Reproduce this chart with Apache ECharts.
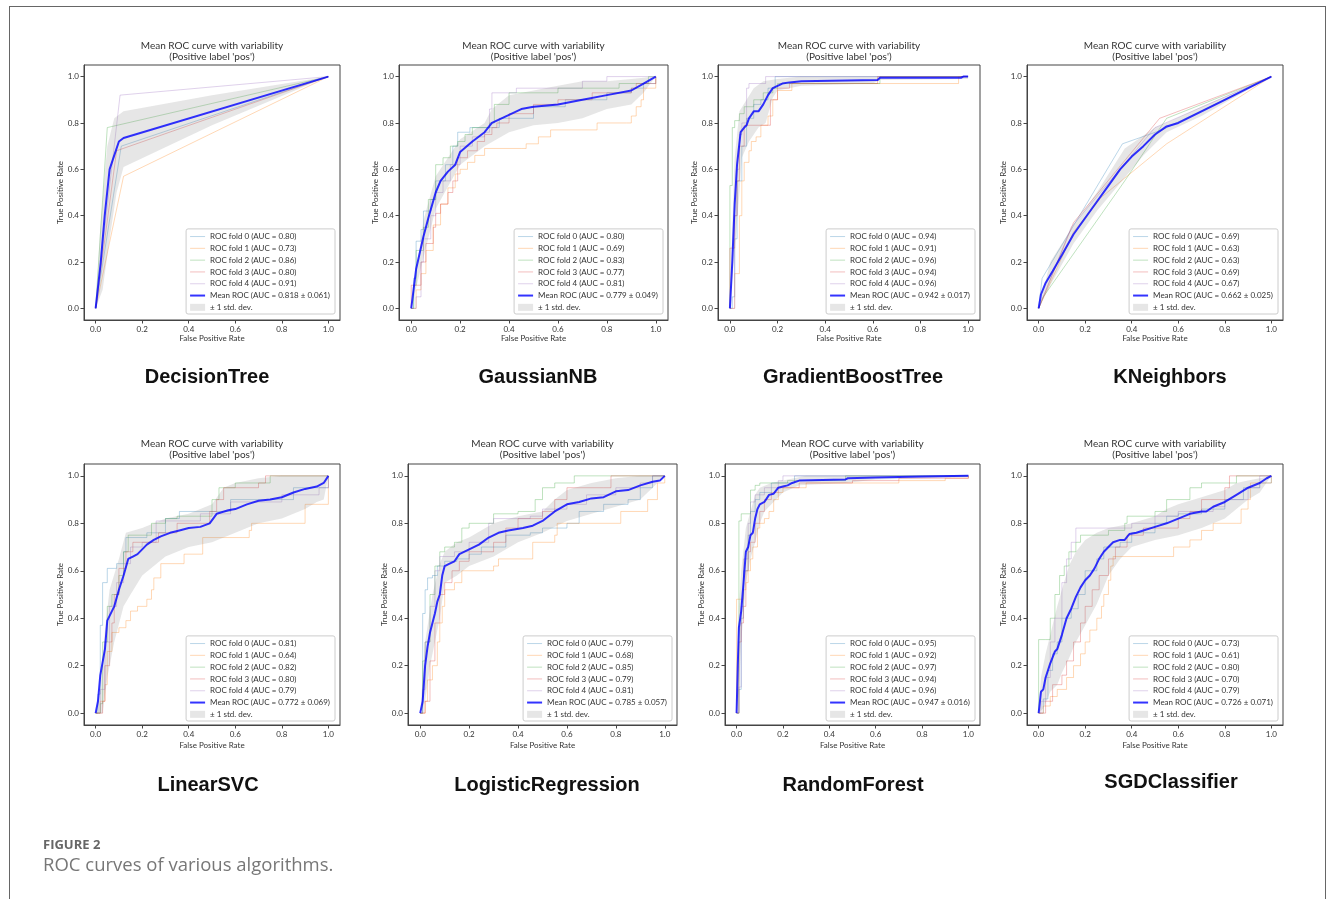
<!DOCTYPE html>
<html>
<head>
<meta charset="utf-8">
<title>ROC curves of various algorithms</title>
<script src="https://cdn.jsdelivr.net/npm/echarts@6/dist/echarts.min.js"></script>
<style>
  html, body { margin: 0; padding: 0; background: #fff; overflow: hidden; }
  .frame { position: absolute; left: 9px; top: 6px; width: 1315px; height: 1000px; border: 1px solid #666; }
  #roc { position: absolute; left: 0; top: 0; width: 1333px; height: 899px; }
</style>
</head>
<body>
<div class="frame"></div>
<div id="roc"></div>
<script>
const TICKS = [0, 0.2, 0.4, 0.6, 0.8, 1.0];
const MODELS = ['DecisionTree', 'GaussianNB', 'GradientBoostTree', 'KNeighbors',
  'LinearSVC', 'LogisticRegression', 'RandomForest', 'SGDClassifier'];

// DecisionTree
const dtAuc = [0.80, 0.73, 0.86, 0.80, 0.91];
const dtMeanAuc = [0.818, 0.061];
const dtFolds = [
  [[0, 0], [0.11, 0.70], [1, 1]],
  [[0, 0], [0.12, 0.57], [1, 1]],
  [[0, 0], [0.05, 0.78], [1, 1]],
  [[0, 0], [0.09, 0.68], [1, 1]],
  [[0, 0], [0.105, 0.92], [1, 1]],
];
const dtMean = [[0, 0], [0.022, 0.2], [0.039, 0.4], [0.06, 0.6], [0.075, 0.645], [0.1, 0.72], [0.12, 0.735], [1, 1]];
const dtUpper = [[0, 0], [0.02, 0.35], [0.05, 0.70], [0.08, 0.82], [0.12, 0.85], [0.5, 0.92], [1, 1]];
const dtLower = [[0, 0], [0.03, 0.08], [0.06, 0.30], [0.09, 0.50], [0.12, 0.61], [0.5, 0.79], [1, 1]];

// GaussianNB
const gnbAuc = [0.80, 0.69, 0.83, 0.77, 0.81];
const gnbMeanAuc = [0.779, 0.049];
const gnbFolds = [
  [[0, 0], [0.01, 0.13], [0.02, 0.29], [0.04, 0.34], [0.05, 0.42], [0.08, 0.47], [0.1, 0.55], [0.14, 0.62], [0.17, 0.70], [0.19, 0.76], [0.22, 0.76], [0.24, 0.78], [0.35, 0.78], [0.36, 0.82], [0.5, 0.87], [0.6, 0.87], [0.63, 0.90], [0.75, 0.90], [0.8, 0.93], [0.9, 0.95], [0.95, 0.97], [1, 1]],
  [[0, 0], [0.02, 0.08], [0.04, 0.15], [0.06, 0.25], [0.09, 0.36], [0.12, 0.45], [0.15, 0.52], [0.18, 0.58], [0.2, 0.60], [0.23, 0.63], [0.26, 0.66], [0.3, 0.69], [0.45, 0.69], [0.47, 0.71], [0.52, 0.74], [0.57, 0.77], [0.73, 0.77], [0.76, 0.80], [0.88, 0.80], [0.9, 0.83], [0.92, 0.87], [0.94, 0.90], [0.95, 0.95], [1, 0.95], [1, 1]],
  [[0, 0], [0.01, 0.10], [0.02, 0.25], [0.05, 0.35], [0.07, 0.47], [0.1, 0.62], [0.13, 0.65], [0.16, 0.70], [0.19, 0.72], [0.22, 0.75], [0.25, 0.78], [0.32, 0.80], [0.34, 0.88], [0.4, 0.93], [0.55, 0.93], [0.6, 0.95], [0.82, 0.95], [0.85, 0.97], [0.95, 0.97], [0.97, 1], [1, 1]],
  [[0, 0], [0, 0.10], [0.03, 0.10], [0.04, 0.20], [0.06, 0.28], [0.09, 0.35], [0.1, 0.41], [0.12, 0.45], [0.15, 0.50], [0.17, 0.55], [0.19, 0.65], [0.23, 0.68], [0.27, 0.72], [0.3, 0.75], [0.33, 0.78], [0.35, 0.80], [0.4, 0.84], [0.5, 0.88], [0.6, 0.90], [0.72, 0.90], [0.74, 0.93], [0.9, 0.95], [0.92, 0.97], [1, 0.97], [1, 1]],
  [[0, 0], [0.02, 0.05], [0.04, 0.05], [0.04, 0.2], [0.05, 0.3], [0.08, 0.4], [0.1, 0.5], [0.13, 0.55], [0.16, 0.62], [0.2, 0.70], [0.25, 0.74], [0.3, 0.76], [0.32, 0.86], [0.33, 0.93], [0.4, 0.93], [0.43, 0.95], [0.6, 0.95], [0.7, 0.98], [0.8, 1], [1, 1]],
];
const gnbMean = [[0, 0], [0.02, 0.17], [0.05, 0.31], [0.07, 0.39], [0.1, 0.5], [0.12, 0.55], [0.15, 0.59], [0.18, 0.62], [0.2, 0.675], [0.25, 0.72], [0.3, 0.76], [0.33, 0.80], [0.4, 0.835], [0.45, 0.86], [0.5, 0.87], [0.6, 0.88], [0.7, 0.90], [0.8, 0.92], [0.9, 0.94], [0.95, 0.97], [1, 1]];
const gnbUpper = [[0, 0], [0.05, 0.38], [0.1, 0.57], [0.2, 0.73], [0.3, 0.80], [0.33, 0.86], [0.4, 0.92], [0.5, 0.94], [0.6, 0.96], [0.7, 0.98], [0.8, 0.98], [0.9, 0.99], [1, 1]];
const gnbLower = [[0, 0], [0.05, 0.22], [0.1, 0.43], [0.2, 0.62], [0.3, 0.70], [0.4, 0.76], [0.5, 0.79], [0.6, 0.80], [0.7, 0.82], [0.8, 0.86], [0.9, 0.88], [0.95, 0.93], [1, 1]];

// GradientBoostTree
const gbtAuc = [0.94, 0.91, 0.96, 0.94, 0.96];
const gbtMeanAuc = [0.942, 0.017];
const gbtFolds = [
  [[0, 0], [0.01, 0.05], [0.02, 0.3], [0.03, 0.55], [0.05, 0.7], [0.07, 0.82], [0.1, 0.88], [0.13, 0.9], [0.16, 0.95], [0.19, 1], [1, 1]],
  [[0, 0], [0.02, 0.15], [0.04, 0.4], [0.05, 0.55], [0.06, 0.63], [0.08, 0.68], [0.09, 0.72], [0.11, 0.74], [0.13, 0.79], [0.16, 0.83], [0.18, 0.90], [0.2, 0.94], [0.26, 0.97], [0.96, 0.97], [0.96, 1], [1, 1]],
  [[0, 0], [0, 0.53], [0.01, 0.78], [0.02, 0.81], [0.04, 0.84], [0.06, 0.87], [0.1, 0.9], [0.14, 0.93], [0.18, 0.95], [0.2, 0.97], [0.62, 0.97], [0.63, 1], [1, 1]],
  [[0, 0], [0, 0.26], [0.02, 0.40], [0.03, 0.55], [0.04, 0.70], [0.06, 0.79], [0.16, 0.79], [0.17, 0.90], [0.2, 0.95], [0.25, 0.97], [0.6, 0.97], [0.62, 1], [1, 1]],
  [[0, 0], [0.02, 0.4], [0.03, 0.6], [0.04, 0.75], [0.05, 0.8], [0.07, 0.95], [0.08, 0.97], [0.15, 0.97], [0.15, 1], [1, 1]],
];
const gbtMean = [[0, 0], [0.01, 0.2], [0.02, 0.45], [0.03, 0.62], [0.045, 0.76], [0.06, 0.78], [0.07, 0.79], [0.08, 0.82], [0.1, 0.85], [0.12, 0.85], [0.14, 0.88], [0.16, 0.92], [0.18, 0.95], [0.2, 0.96], [0.22, 0.97], [0.25, 0.975], [0.3, 0.98], [0.62, 0.985], [0.63, 0.995], [0.97, 0.995], [0.98, 1], [1, 1]];
const gbtUpper = [[0, 0], [0.01, 0.35], [0.02, 0.65], [0.04, 0.85], [0.07, 0.90], [0.1, 0.95], [0.14, 0.98], [0.2, 0.99], [0.3, 1], [1, 1]];
const gbtLower = [[0, 0], [0.02, 0.25], [0.04, 0.50], [0.05, 0.65], [0.08, 0.72], [0.12, 0.78], [0.15, 0.80], [0.18, 0.91], [0.2, 0.94], [0.3, 0.96], [0.6, 0.97], [0.63, 0.985], [1, 0.99]];

// KNeighbors
const knnAuc = [0.69, 0.63, 0.63, 0.69, 0.67];
const knnMeanAuc = [0.662, 0.025];
const knnFolds = [
  [[0, 0], [0.015, 0.13], [0.36, 0.71], [0.53, 0.77], [1, 1]],
  [[0, 0], [0.15, 0.33], [0.27, 0.48], [0.55, 0.71], [1, 1]],
  [[0, 0], [0.02, 0.05], [0.37, 0.55], [0.55, 0.82], [1, 1]],
  [[0, 0], [0.15, 0.37], [0.52, 0.82], [1, 1]],
  [[0, 0], [0.14, 0.35], [0.5, 0.78], [1, 1]],
];
const knnMean = [[0, 0], [0.01, 0.06], [0.03, 0.11], [0.06, 0.16], [0.1, 0.23], [0.15, 0.32], [0.2, 0.39], [0.25, 0.46], [0.3, 0.53], [0.35, 0.6], [0.4, 0.655], [0.45, 0.70], [0.5, 0.75], [0.55, 0.785], [0.6, 0.80], [0.7, 0.85], [0.8, 0.90], [0.9, 0.95], [1, 1]];
const knnUpper = [[0, 0], [0.05, 0.2], [0.15, 0.36], [0.25, 0.5], [0.37, 0.69], [0.5, 0.78], [0.55, 0.80], [0.7, 0.87], [1, 1]];
const knnLower = [[0, 0], [0.05, 0.1], [0.15, 0.28], [0.25, 0.42], [0.35, 0.54], [0.45, 0.66], [0.55, 0.76], [0.7, 0.83], [1, 1]];

// LinearSVC
const svcAuc = [0.81, 0.64, 0.82, 0.80, 0.79];
const svcMeanAuc = [0.772, 0.069];
const svcFolds = [
  [[0, 0], [0.01, 0.08], [0.02, 0.37], [0.03, 0.55], [0.05, 0.61], [0.08, 0.61], [0.09, 0.63], [0.12, 0.68], [0.13, 0.74], [0.2, 0.74], [0.22, 0.76], [0.3, 0.82], [0.36, 0.85], [0.55, 0.85], [0.58, 0.9], [0.85, 0.93], [0.85, 0.95], [0.97, 0.95], [1, 1]],
  [[0, 0], [0.02, 0.05], [0.04, 0.12], [0.05, 0.26], [0.07, 0.34], [0.1, 0.36], [0.13, 0.39], [0.15, 0.43], [0.18, 0.45], [0.22, 0.48], [0.24, 0.52], [0.25, 0.57], [0.28, 0.63], [0.38, 0.63], [0.38, 0.67], [0.46, 0.67], [0.46, 0.74], [0.63, 0.74], [0.66, 0.77], [0.67, 0.8], [0.9, 0.8], [0.9, 0.88], [0.97, 0.88], [1, 1]],
  [[0, 0], [0.02, 0.04], [0.03, 0.3], [0.05, 0.45], [0.07, 0.5], [0.1, 0.58], [0.12, 0.68], [0.14, 0.75], [0.2, 0.75], [0.24, 0.8], [0.3, 0.82], [0.35, 0.83], [0.48, 0.83], [0.5, 0.9], [0.53, 0.95], [0.6, 0.97], [0.7, 0.97], [0.75, 1], [1, 1]],
  [[0, 0], [0.03, 0.05], [0.04, 0.2], [0.06, 0.3], [0.07, 0.38], [0.08, 0.5], [0.1, 0.61], [0.13, 0.68], [0.16, 0.72], [0.22, 0.72], [0.27, 0.76], [0.35, 0.8], [0.45, 0.8], [0.49, 0.85], [0.52, 0.9], [0.55, 0.95], [0.7, 0.97], [0.73, 1], [1, 1]],
  [[0, 0], [0.02, 0.1], [0.04, 0.3], [0.06, 0.45], [0.09, 0.55], [0.12, 0.63], [0.15, 0.7], [0.2, 0.72], [0.26, 0.81], [0.42, 0.81], [0.45, 0.84], [0.55, 0.84], [0.58, 0.89], [0.75, 0.89], [0.8, 0.92], [0.93, 0.92], [0.96, 0.95], [1, 1]],
];
const svcMean = [[0, 0], [0.01, 0.05], [0.02, 0.16], [0.04, 0.27], [0.05, 0.39], [0.07, 0.43], [0.08, 0.45], [0.1, 0.52], [0.12, 0.58], [0.14, 0.65], [0.16, 0.66], [0.18, 0.67], [0.2, 0.69], [0.22, 0.71], [0.25, 0.73], [0.28, 0.745], [0.32, 0.76], [0.36, 0.77], [0.4, 0.78], [0.45, 0.785], [0.49, 0.80], [0.52, 0.84], [0.57, 0.855], [0.6, 0.86], [0.65, 0.88], [0.7, 0.895], [0.75, 0.90], [0.8, 0.91], [0.85, 0.93], [0.9, 0.945], [0.95, 0.955], [0.98, 0.97], [1, 1]];
const svcUpper = [[0, 0], [0.02, 0.1], [0.04, 0.35], [0.06, 0.52], [0.1, 0.65], [0.13, 0.76], [0.2, 0.78], [0.3, 0.82], [0.4, 0.84], [0.5, 0.88], [0.55, 0.95], [0.6, 0.97], [0.7, 0.99], [0.8, 1], [1, 1]];
const svcLower = [[0, 0], [0.03, 0], [0.05, 0.15], [0.08, 0.30], [0.12, 0.45], [0.15, 0.50], [0.2, 0.58], [0.3, 0.66], [0.4, 0.70], [0.5, 0.72], [0.6, 0.76], [0.7, 0.80], [0.8, 0.82], [0.9, 0.86], [0.95, 0.89], [0.98, 0.9], [1, 1]];

// LogisticRegression
const lrAuc = [0.79, 0.68, 0.85, 0.79, 0.81];
const lrMeanAuc = [0.785, 0.057];
const lrFolds = [
  [[0, 0], [0.01, 0.05], [0.01, 0.42], [0.02, 0.52], [0.03, 0.57], [0.05, 0.58], [0.07, 0.62], [0.1, 0.64], [0.15, 0.65], [0.2, 0.67], [0.25, 0.7], [0.35, 0.75], [0.45, 0.76], [0.5, 0.78], [0.6, 0.8], [0.65, 0.85], [0.75, 0.88], [0.85, 0.9], [0.9, 0.95], [0.95, 1], [1, 1]],
  [[0, 0], [0.02, 0.05], [0.03, 0.14], [0.05, 0.2], [0.07, 0.3], [0.08, 0.38], [0.09, 0.45], [0.1, 0.52], [0.14, 0.55], [0.17, 0.6], [0.3, 0.62], [0.32, 0.65], [0.46, 0.65], [0.46, 0.72], [0.55, 0.75], [0.56, 0.8], [0.8, 0.8], [0.82, 0.85], [0.9, 0.85], [0.93, 0.9], [0.97, 0.9], [0.97, 0.97], [1, 1]],
  [[0, 0], [0.01, 0.22], [0.02, 0.3], [0.04, 0.5], [0.06, 0.62], [0.08, 0.68], [0.1, 0.7], [0.14, 0.72], [0.17, 0.78], [0.2, 0.8], [0.3, 0.84], [0.4, 0.85], [0.47, 0.9], [0.5, 0.95], [0.55, 0.97], [0.6, 0.97], [0.63, 1], [1, 1]],
  [[0, 0], [0.02, 0.05], [0.04, 0.22], [0.06, 0.38], [0.08, 0.5], [0.1, 0.55], [0.13, 0.6], [0.16, 0.64], [0.2, 0.68], [0.3, 0.72], [0.35, 0.78], [0.4, 0.82], [0.5, 0.85], [0.55, 0.9], [0.6, 0.95], [0.75, 0.95], [0.78, 1], [1, 1]],
  [[0, 0], [0.01, 0.1], [0.02, 0.3], [0.04, 0.45], [0.06, 0.6], [0.08, 0.66], [0.14, 0.68], [0.2, 0.72], [0.28, 0.8], [0.3, 0.82], [0.45, 0.83], [0.5, 0.86], [0.6, 0.88], [0.68, 0.92], [0.8, 0.95], [0.9, 0.97], [0.95, 1], [1, 1]],
];
const lrMean = [[0, 0], [0.01, 0.05], [0.02, 0.2], [0.03, 0.28], [0.04, 0.34], [0.06, 0.42], [0.07, 0.47], [0.08, 0.5], [0.09, 0.58], [0.1, 0.62], [0.12, 0.63], [0.14, 0.64], [0.16, 0.67], [0.2, 0.69], [0.24, 0.71], [0.28, 0.74], [0.32, 0.76], [0.36, 0.77], [0.42, 0.78], [0.46, 0.79], [0.5, 0.81], [0.55, 0.85], [0.6, 0.88], [0.65, 0.89], [0.7, 0.905], [0.75, 0.91], [0.8, 0.935], [0.85, 0.94], [0.9, 0.96], [0.95, 0.975], [0.98, 0.98], [1, 1]];
const lrUpper = [[0, 0], [0.02, 0.3], [0.05, 0.5], [0.08, 0.63], [0.1, 0.68], [0.15, 0.72], [0.2, 0.74], [0.3, 0.80], [0.4, 0.83], [0.5, 0.85], [0.55, 0.9], [0.6, 0.94], [0.7, 0.97], [0.8, 0.99], [0.9, 1], [1, 1]];
const lrLower = [[0, 0], [0.02, 0.05], [0.04, 0.2], [0.06, 0.3], [0.08, 0.4], [0.1, 0.55], [0.15, 0.58], [0.2, 0.62], [0.3, 0.66], [0.4, 0.72], [0.5, 0.76], [0.6, 0.81], [0.7, 0.84], [0.8, 0.87], [0.9, 0.9], [0.95, 0.95], [1, 1]];

// RandomForest
const rfAuc = [0.95, 0.92, 0.97, 0.94, 0.96];
const rfMeanAuc = [0.947, 0.016];
const rfFolds = [
  [[0, 0], [0.01, 0.1], [0.02, 0.4], [0.03, 0.6], [0.05, 0.75], [0.06, 0.85], [0.08, 0.9], [0.1, 0.93], [0.15, 0.97], [0.2, 0.97], [0.25, 1], [1, 1]],
  [[0, 0], [0, 0.48], [0.02, 0.48], [0.03, 0.52], [0.04, 0.55], [0.05, 0.6], [0.06, 0.65], [0.07, 0.7], [0.09, 0.78], [0.1, 0.8], [0.12, 0.82], [0.14, 0.85], [0.16, 0.9], [0.18, 0.93], [0.2, 0.95], [0.3, 0.97], [0.5, 0.97], [0.7, 0.98], [0.9, 0.99], [1, 1]],
  [[0, 0], [0.01, 0.45], [0.01, 0.81], [0.02, 0.84], [0.05, 0.84], [0.06, 0.94], [0.08, 0.96], [0.1, 0.97], [0.2, 0.97], [0.22, 0.98], [0.45, 0.98], [0.47, 1], [1, 1]],
  [[0, 0], [0.01, 0.3], [0.02, 0.38], [0.03, 0.45], [0.04, 0.6], [0.05, 0.68], [0.06, 0.72], [0.08, 0.8], [0.1, 0.85], [0.12, 0.9], [0.15, 0.93], [0.18, 0.95], [0.27, 0.97], [0.5, 0.98], [0.7, 0.99], [1, 1]],
  [[0, 0], [0.01, 0.11], [0.02, 0.45], [0.03, 0.65], [0.05, 0.8], [0.06, 0.89], [0.08, 0.92], [0.12, 0.95], [0.18, 0.98], [0.2, 1], [1, 1]],
];
const rfMean = [[0, 0], [0.005, 0.2], [0.01, 0.36], [0.02, 0.43], [0.03, 0.55], [0.04, 0.68], [0.05, 0.7], [0.06, 0.75], [0.07, 0.76], [0.08, 0.82], [0.09, 0.86], [0.1, 0.88], [0.12, 0.89], [0.14, 0.92], [0.16, 0.925], [0.18, 0.95], [0.2, 0.955], [0.22, 0.96], [0.24, 0.97], [0.27, 0.98], [0.47, 0.985], [0.48, 0.99], [0.6, 0.993], [0.8, 0.997], [1, 1]];
const rfUpper = [[0, 0], [0.01, 0.45], [0.02, 0.6], [0.04, 0.78], [0.06, 0.85], [0.08, 0.92], [0.1, 0.95], [0.15, 0.97], [0.2, 0.98], [0.3, 1], [1, 1]];
const rfLower = [[0, 0], [0.01, 0.1], [0.02, 0.3], [0.04, 0.55], [0.06, 0.65], [0.08, 0.72], [0.1, 0.80], [0.12, 0.85], [0.15, 0.88], [0.2, 0.93], [0.27, 0.96], [0.47, 0.97], [0.6, 0.985], [1, 0.995]];

// SGDClassifier
const sgdAuc = [0.73, 0.61, 0.80, 0.70, 0.79];
const sgdMeanAuc = [0.726, 0.071];
const sgdFolds = [
  [[0, 0], [0.02, 0.06], [0.04, 0.18], [0.06, 0.25], [0.08, 0.3], [0.1, 0.4], [0.14, 0.44], [0.17, 0.5], [0.2, 0.56], [0.2, 0.6], [0.23, 0.6], [0.25, 0.65], [0.28, 0.7], [0.35, 0.72], [0.4, 0.76], [0.5, 0.8], [0.55, 0.83], [0.6, 0.84], [0.7, 0.86], [0.8, 0.9], [0.88, 0.95], [0.95, 0.97], [1, 1]],
  [[0, 0], [0.02, 0.03], [0.05, 0.07], [0.08, 0.1], [0.12, 0.15], [0.15, 0.2], [0.18, 0.25], [0.2, 0.3], [0.22, 0.35], [0.25, 0.4], [0.27, 0.45], [0.28, 0.5], [0.3, 0.56], [0.31, 0.62], [0.32, 0.66], [0.57, 0.66], [0.58, 0.7], [0.65, 0.73], [0.7, 0.77], [0.75, 0.8], [0.85, 0.8], [0.87, 0.86], [0.9, 0.9], [0.91, 0.97], [0.98, 0.97], [1, 1]],
  [[0, 0], [0, 0.31], [0.03, 0.31], [0.05, 0.4], [0.07, 0.5], [0.09, 0.58], [0.11, 0.62], [0.13, 0.68], [0.16, 0.72], [0.18, 0.75], [0.3, 0.77], [0.37, 0.8], [0.38, 0.83], [0.5, 0.85], [0.55, 0.9], [0.65, 0.95], [0.7, 0.97], [0.82, 0.97], [0.85, 1], [1, 1]],
  [[0, 0], [0.03, 0.05], [0.06, 0.12], [0.1, 0.16], [0.12, 0.22], [0.15, 0.3], [0.18, 0.38], [0.2, 0.45], [0.23, 0.52], [0.26, 0.58], [0.3, 0.65], [0.33, 0.7], [0.38, 0.75], [0.45, 0.78], [0.6, 0.82], [0.65, 0.85], [0.7, 0.9], [0.8, 0.95], [0.82, 1], [1, 1]],
  [[0, 0], [0.01, 0.05], [0.03, 0.15], [0.05, 0.3], [0.07, 0.4], [0.1, 0.55], [0.12, 0.65], [0.14, 0.72], [0.16, 0.78], [0.35, 0.78], [0.4, 0.8], [0.5, 0.83], [0.6, 0.85], [0.75, 0.87], [0.8, 0.9], [0.9, 0.95], [0.95, 1], [1, 1]],
];
const sgdMean = [[0, 0], [0.01, 0.09], [0.02, 0.1], [0.03, 0.15], [0.05, 0.21], [0.07, 0.26], [0.08, 0.27], [0.1, 0.33], [0.12, 0.4], [0.14, 0.44], [0.16, 0.49], [0.18, 0.53], [0.2, 0.56], [0.22, 0.58], [0.24, 0.61], [0.26, 0.65], [0.28, 0.68], [0.3, 0.7], [0.32, 0.72], [0.35, 0.73], [0.37, 0.73], [0.39, 0.755], [0.42, 0.76], [0.45, 0.77], [0.5, 0.785], [0.55, 0.80], [0.6, 0.82], [0.65, 0.84], [0.7, 0.85], [0.72, 0.85], [0.75, 0.87], [0.8, 0.89], [0.85, 0.92], [0.9, 0.95], [0.95, 0.97], [0.98, 0.99], [1, 1]];
const sgdUpper = [[0, 0], [0.01, 0.15], [0.03, 0.25], [0.05, 0.33], [0.08, 0.45], [0.1, 0.52], [0.13, 0.62], [0.16, 0.68], [0.2, 0.73], [0.25, 0.76], [0.3, 0.78], [0.35, 0.79], [0.4, 0.8], [0.5, 0.83], [0.55, 0.86], [0.6, 0.88], [0.7, 0.91], [0.8, 0.94], [0.85, 0.97], [0.9, 0.98], [0.95, 0.99], [1, 1]];
const sgdLower = [[0, 0], [0.02, 0.02], [0.05, 0.09], [0.08, 0.12], [0.1, 0.17], [0.13, 0.23], [0.16, 0.3], [0.2, 0.37], [0.25, 0.46], [0.3, 0.58], [0.35, 0.65], [0.4, 0.7], [0.5, 0.73], [0.6, 0.75], [0.7, 0.78], [0.75, 0.8], [0.8, 0.82], [0.85, 0.86], [0.9, 0.9], [0.95, 0.93], [1, 1]];

const panels = [
  { auc: dtAuc, meanAuc: dtMeanAuc, folds: dtFolds, mean: dtMean, upper: dtUpper, lower: dtLower, step: false },
  { auc: gnbAuc, meanAuc: gnbMeanAuc, folds: gnbFolds, mean: gnbMean, upper: gnbUpper, lower: gnbLower, step: 'end' },
  { auc: gbtAuc, meanAuc: gbtMeanAuc, folds: gbtFolds, mean: gbtMean, upper: gbtUpper, lower: gbtLower, step: 'end' },
  { auc: knnAuc, meanAuc: knnMeanAuc, folds: knnFolds, mean: knnMean, upper: knnUpper, lower: knnLower, step: false },
  { auc: svcAuc, meanAuc: svcMeanAuc, folds: svcFolds, mean: svcMean, upper: svcUpper, lower: svcLower, step: 'end' },
  { auc: lrAuc, meanAuc: lrMeanAuc, folds: lrFolds, mean: lrMean, upper: lrUpper, lower: lrLower, step: 'end' },
  { auc: rfAuc, meanAuc: rfMeanAuc, folds: rfFolds, mean: rfMean, upper: rfUpper, lower: rfLower, step: 'end' },
  { auc: sgdAuc, meanAuc: sgdMeanAuc, folds: sgdFolds, mean: sgdMean, upper: sgdUpper, lower: sgdLower, step: 'end' },
];

// 每个子图绘图区 [left, top, width, height]
const boxes = [
  [84, 65, 256, 255], [399, 65, 269, 255], [718, 65, 262, 255], [1027, 65, 256, 255],
  [84, 464, 256, 261], [408, 464, 269, 261], [725, 464, 255, 261], [1027, 464, 256, 261],
];
// 模型名称位置 (中心点)
const namePos = [[207, 377], [538, 377], [853, 377], [1170, 377], [208, 785], [547, 785], [853, 785], [1171, 782]];

const FONT = 'Lato, "DejaVu Sans", sans-serif';
const FOLD_COLORS = ['rgba(31,119,180,0.3)', 'rgba(255,127,14,0.3)', 'rgba(44,160,44,0.3)', 'rgba(214,39,40,0.3)', 'rgba(148,103,189,0.3)'];
const MEAN_COLOR = 'rgba(0,0,255,0.8)';
const BAND_COLOR = 'rgba(128,128,128,0.2)';
const BAND_NAME = '± 1 std. dev.';

const foldName = (k, a) => 'ROC fold ' + k + ' (AUC = ' + a.toFixed(2) + ')';
const meanName = (m) => 'Mean ROC (AUC = ' + m[0].toFixed(3) + ' ± ' + m[1].toFixed(3) + ')';

const chart = echarts.init(document.getElementById('roc'));

const grid = [], xAxis = [], yAxis = [], title = [], legend = [], series = [], graphic = [];

// 轴线贴着绘图框, 刻度朝外
const axisBase = (i, pos) => ({
  type: 'value', gridIndex: i, position: pos, min: -0.05, max: 1.05, nameLocation: 'middle',
  nameTextStyle: { fontSize: 8, color: '#333', fontFamily: FONT },
  axisLine: { show: true, onZero: false, lineStyle: { color: '#444', width: 1 } },
  axisTick: { show: true, customValues: TICKS, length: 3.5, lineStyle: { color: '#444' } },
  axisLabel: { customValues: TICKS, formatter: (v) => v.toFixed(1), fontSize: 8, color: '#333', margin: 5, fontFamily: FONT },
  splitLine: { show: false },
});

panels.forEach((p, i) => {
  const [left, top, width, height] = boxes[i];
  const row = i < 4 ? 0 : 1;
  grid.push({ left, top, width, height, show: true, borderColor: '#444', borderWidth: 1, backgroundColor: 'transparent' });

  xAxis.push(Object.assign(axisBase(i, 'bottom'), { name: 'False Positive Rate', nameGap: row ? 16 : 14 }));
  yAxis.push(Object.assign(axisBase(i, 'left'), { name: 'True Positive Rate', nameGap: 19 }));

  title.push({
    text: "Mean ROC curve with variability\n(Positive label 'pos')",
    left: left + width / 2, top: row ? 438 : 40, textAlign: 'center', padding: 0,
    textStyle: { fontSize: 10, fontWeight: 'normal', color: '#333', lineHeight: 11.5, fontFamily: FONT },
  });

  // 各折 ROC 曲线
  p.folds.forEach((pts, k) => {
    series.push({
      name: foldName(k, p.auc[k]), type: 'line', xAxisIndex: i, yAxisIndex: i,
      data: pts, step: p.step, symbol: 'none', silent: true, z: 2,
      lineStyle: { width: 1, color: FOLD_COLORS[k] }, itemStyle: { color: FOLD_COLORS[k] },
    });
  });
  // 平均 ROC
  series.push({
    name: meanName(p.meanAuc), type: 'line', xAxisIndex: i, yAxisIndex: i,
    data: p.mean, symbol: 'none', silent: true, z: 4,
    lineStyle: { width: 2, color: MEAN_COLOR }, itemStyle: { color: MEAN_COLOR },
  });
  // ±1 标准差区域
  series.push({
    name: BAND_NAME, type: 'custom', xAxisIndex: i, yAxisIndex: i, silent: true, z: 3,
    itemStyle: { color: BAND_COLOR },
    data: [[0, 0]],
    renderItem: (params, api) => {
      const pts = p.upper.map((d) => api.coord(d))
        .concat(p.lower.slice().reverse().map((d) => api.coord(d)));
      return { type: 'polygon', shape: { points: pts }, style: { fill: BAND_COLOR } };
    },
  });

  // 图例里的线条不要圆点
  legend.push({
    orient: 'vertical', selectedMode: false,
    right: 1333 - (left + width) + 5, bottom: row ? 178 : 585,
    itemWidth: 15, itemHeight: 7, itemGap: 2.5, padding: [3, 5, 2, 3],
    borderColor: '#ccc', borderWidth: 1, borderRadius: 2, backgroundColor: 'rgba(255,255,255,0.8)',
    textStyle: { fontSize: 8, color: '#333', lineHeight: 9.3, fontFamily: FONT },
    data: p.auc.map((a, k) => ({ name: foldName(k, a), itemStyle: { opacity: 0 }, lineStyle: { width: 1, color: FOLD_COLORS[k] } }))
      .concat([
        { name: meanName(p.meanAuc), itemStyle: { opacity: 0 }, lineStyle: { width: 2, color: MEAN_COLOR } },
        { name: BAND_NAME, icon: 'rect', itemStyle: { color: BAND_COLOR, borderWidth: 0 } },
      ]),
  });

  graphic.push({
    type: 'text', x: namePos[i][0], y: namePos[i][1], silent: true,
    style: { text: MODELS[i], textAlign: 'center', textVerticalAlign: 'middle', fontSize: 20, fontWeight: 'bold', fontFamily: '"Liberation Sans", Arial, sans-serif', fill: '#111' },
  });
});

graphic.push(
  { type: 'text', x: 43, y: 845, silent: true,
    style: { text: 'FIGURE 2', textVerticalAlign: 'middle', fontSize: 13, fontWeight: 'bold', fontFamily: '"Open Sans", sans-serif', fill: '#666' } },
  { type: 'text', x: 43, y: 866, silent: true,
    style: { text: 'ROC curves of various algorithms.', textVerticalAlign: 'middle', fontSize: 18.5, fontFamily: '"Open Sans", sans-serif', fill: '#777' } }
);

chart.setOption({ animation: false, grid, xAxis, yAxis, title, legend, series, graphic });
window.onresize = function () { chart.resize(); };
</script>
</body>
</html>
